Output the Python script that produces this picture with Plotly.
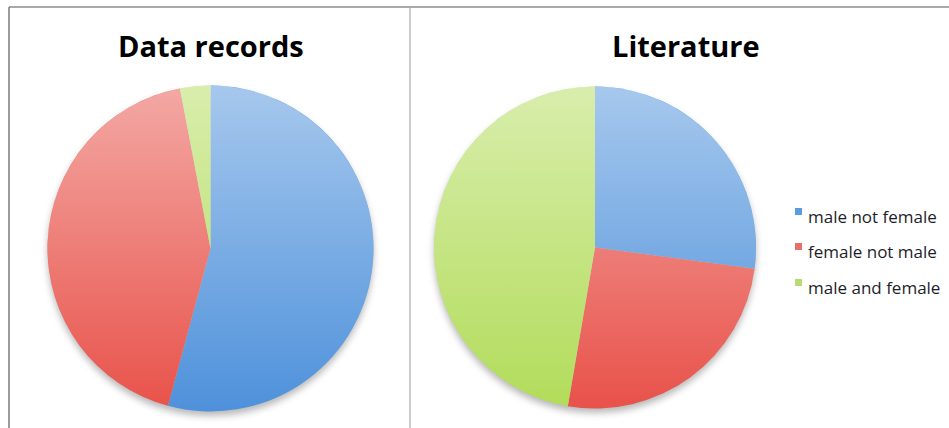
import base64
import plotly.graph_objects as go

# Share of sex labels in the two sources
categories = ["male not female", "female not male", "male and female"]
data_records = [54.2, 42.8, 3.0]
literature = [27.1, 25.6, 47.3]
panel_titles = ["Data records", "Literature"]

# Slice colours (darker tone; a light sheen is laid on top)
slice_colors = ["#4e91db", "#e8524a", "#b2dc5a"]
legend_colors = ["#5b9be0", "#e8706a", "#b5dc72"]

W, H = 949, 428
TITLE_FONT = "'Open Sans', Lato, sans-serif"
LEGEND_FONT = "'Open Sans', Lato, sans-serif"

# pie placement in pixels: centre x, centre y, radius
pies = [(210.5, 248.5, 163.0, data_records), (595.0, 247.5, 161.0, literature)]


def svg_uri(svg):
    return "data:image/svg+xml;base64," + base64.b64encode(svg.encode()).decode()


sheen_svg = svg_uri(
    '<svg xmlns="http://www.w3.org/2000/svg" viewBox="0 0 100 100" '
    'preserveAspectRatio="none" width="100" height="100">'
    '<defs><linearGradient id="g" x1="0" y1="0" x2="0" y2="1">'
    '<stop offset="0" stop-color="#fff" stop-opacity="0.5"/>'
    '<stop offset="1" stop-color="#fff" stop-opacity="0"/>'
    '</linearGradient></defs>'
    '<circle cx="50" cy="50" r="50" fill="url(#g)"/></svg>'
)

shadow_svg = svg_uri(
    '<svg xmlns="http://www.w3.org/2000/svg" viewBox="0 0 120 120" '
    'preserveAspectRatio="none" width="120" height="120">'
    '<defs><filter id="b" x="-20%" y="-20%" width="140%" height="140%">'
    '<feGaussianBlur stdDeviation="1.2"/></filter></defs>'
    '<circle cx="60" cy="61.4" r="50" fill="#000" fill-opacity="0.28" filter="url(#b)"/></svg>'
)

fig = go.Figure()
images = []
for cx, cy, r, vals in pies:
    fig.add_trace(go.Pie(
        labels=categories,
        values=vals,
        sort=False,
        direction="clockwise",
        rotation=0,
        textinfo="none",
        hoverinfo="label+percent",
        marker=dict(colors=slice_colors, line=dict(width=0)),
        domain=dict(x=[(cx - r) / W, (cx + r) / W],
                    y=[(H - cy - r) / H, (H - cy + r) / H]),
        showlegend=False,
    ))
    images.append(dict(source=sheen_svg, xref="paper", yref="paper",
                       x=(cx - r) / W, y=(H - cy + r) / H,
                       sizex=2 * r / W, sizey=2 * r / H, sizing="stretch",
                       xanchor="left", yanchor="top", layer="above"))
    rr = r * 1.2
    images.append(dict(source=shadow_svg, xref="paper", yref="paper",
                       x=(cx - rr) / W, y=(H - cy + rr) / H,
                       sizex=2 * rr / W, sizey=2 * rr / H, sizing="stretch",
                       xanchor="left", yanchor="top", layer="below"))

annotations = [
    dict(text="<b>%s</b>" % panel_titles[0], x=211 / W, y=(H - 46) / H,
         xref="paper", yref="paper", showarrow=False, xanchor="center",
         yanchor="middle", font=dict(family=TITLE_FONT, size=29, color="#000")),
    dict(text="<b>%s</b>" % panel_titles[1], x=686 / W, y=(H - 46) / H,
         xref="paper", yref="paper", showarrow=False, xanchor="center",
         yanchor="middle", font=dict(family=TITLE_FONT, size=29, color="#000")),
]

shapes = [
    # frame lines
    dict(type="line", xref="paper", yref="paper", x0=9 / W, x1=1, y0=(H - 7) / H, y1=(H - 7) / H,
         line=dict(color="#8c8c8c", width=1.5)),
    dict(type="line", xref="paper", yref="paper", x0=9 / W, x1=9 / W, y0=0, y1=(H - 7) / H,
         line=dict(color="#7a7a7a", width=1.5)),
    dict(type="line", xref="paper", yref="paper", x0=410 / W, x1=410 / W, y0=0, y1=(H - 8) / H,
         line=dict(color="#cccccc", width=2)),
]

# legend: small swatches with labels
legend_y = [216, 251, 287]
for name, col, ly in zip(categories, legend_colors, legend_y):
    shapes.append(dict(type="rect", xref="paper", yref="paper",
                       x0=795 / W, x1=802 / W, y0=(H - ly + 1) / H, y1=(H - ly + 8) / H,
                       fillcolor=col, line=dict(width=0)))
    annotations.append(dict(text=name, x=806 / W, y=(H - ly) / H, xref="paper", yref="paper",
                            showarrow=False, xanchor="left", yanchor="middle",
                            font=dict(family=LEGEND_FONT, size=17, color="#1e1e2a")))

fig.update_layout(
    width=W, height=H,
    margin=dict(l=0, r=0, t=0, b=0),
    paper_bgcolor="white", plot_bgcolor="white",
    images=images, shapes=shapes, annotations=annotations,
)

fig.write_html("out.html")
